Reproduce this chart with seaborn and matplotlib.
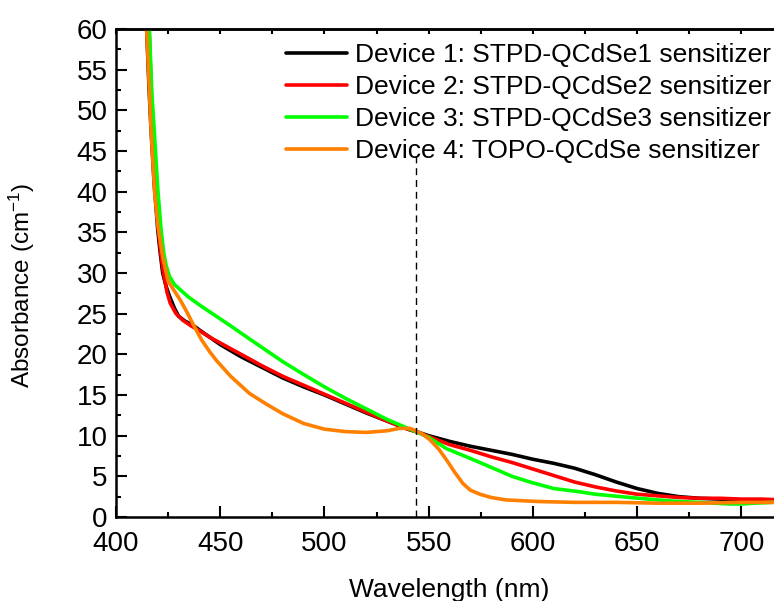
import matplotlib
matplotlib.use("Agg")
import matplotlib.pyplot as plt
import numpy as np
import pandas as pd
import seaborn as sns

# Absorbance spectra of the four sensitized devices (wavelength in nm, absorbance in cm^-1)
wl_d1 = [411, 413, 414.7, 415.8, 416.8, 418.3, 420, 421.2, 422.4, 424, 425.6, 428, 430, 433,
         436.8, 440, 445, 450, 460, 470, 480, 490, 500, 510, 520, 530, 540, 544, 550, 560,
         570, 580, 590, 600, 610, 620, 630, 640, 650, 660, 670, 680, 690, 700, 710, 720]
abs_d1 = [95, 72, 60, 53, 47.7, 41, 35.4, 32.5, 30.0, 28.4, 27.2, 25.7, 24.7, 24.1,
          23.6, 23.0, 22.1, 21.2, 19.7, 18.4, 17.1, 16.0, 15.0, 13.9, 12.8, 11.8, 10.8, 10.5, 10.0, 9.3,
          8.7, 8.2, 7.7, 7.1, 6.6, 6.0, 5.2, 4.3, 3.5, 2.9, 2.5, 2.3, 2.2, 2.1, 2.1, 2.0]

wl_d2 = [412, 414, 415.9, 417, 417.9, 419, 420.3, 421.5, 422.8, 424.5, 426, 428.8, 432,
         436, 440, 445, 450, 460, 470, 480, 490, 500, 510, 520, 530, 540, 544, 550, 560,
         570, 580, 590, 600, 610, 620, 630, 640, 650, 660, 670, 680, 690, 700, 710, 720]
abs_d2 = [95, 72, 60, 52, 47.7, 41, 35.4, 32.4, 30.0, 27.6, 26.3, 25.0, 24.2,
          23.5, 22.9, 22.1, 21.4, 20.0, 18.6, 17.3, 16.2, 15.1, 14.0, 12.9, 11.8, 10.8, 10.5, 9.9, 8.9,
          8.2, 7.4, 6.7, 5.9, 5.1, 4.3, 3.7, 3.2, 2.8, 2.6, 2.4, 2.3, 2.3, 2.2, 2.2, 2.1]

wl_d3 = [412, 414, 416, 417.2, 418.3, 420, 421.6, 423, 424, 425.6, 428, 431, 435, 441,
         448, 455, 464, 472, 480, 489.5, 500, 505, 510, 520, 530, 540, 544, 550, 558.6, 570,
         580, 590, 598.6, 610, 622.5, 630, 646.5, 660, 670.5, 680, 694.5, 700, 706, 715, 720]
abs_d3 = [95, 72, 60, 52, 47.7, 40.5, 35.4, 32.3, 31.0, 29.6, 28.6, 27.9, 27.0, 25.9,
          24.7, 23.5, 21.9, 20.5, 19.1, 17.6, 16.0, 15.3, 14.6, 13.3, 12.0, 10.9, 10.5, 9.8, 8.4, 7.2,
          6.1, 5.0, 4.3, 3.5, 3.1, 2.8, 2.4, 2.1, 1.9, 1.8, 1.6, 1.6, 1.7, 1.8, 1.8]

wl_d4 = [412, 414.7, 416.8, 418.5, 420, 422.4, 425, 428, 431, 434, 437, 441, 445, 448,
         455, 464, 472, 480, 490, 500, 510, 520, 530, 536, 541, 544, 547, 550.6, 555, 558.6,
         562.5, 566.5, 570, 574.6, 580, 587, 595, 603, 620, 640, 660, 680, 700, 720]
abs_d4 = [95, 60, 47.7, 40, 36.0, 32.0, 29.0, 27.8, 26.6, 25.2, 23.7, 21.8, 20.3, 19.3,
          17.3, 15.2, 13.9, 12.7, 11.5, 10.8, 10.5, 10.4, 10.6, 10.9, 10.9, 10.6, 10.2, 9.5, 8.3, 7.0,
          5.5, 4.1, 3.3, 2.8, 2.4, 2.1, 2.0, 1.9, 1.8, 1.8, 1.7, 1.7, 1.8, 1.8]

labels = ["Device 1: STPD-QCdSe1 sensitizer",
          "Device 2: STPD-QCdSe2 sensitizer",
          "Device 3: STPD-QCdSe3 sensitizer",
          "Device 4: TOPO-QCdSe sensitizer"]
colors = ["#000000", "#ff0000", "#00ff00", "#ff8000"]

marker_wl = 544        # wavelength of the common crossing point
marker_top = 44.5      # upper end of the dashed guide

x_ticks = [400, 450, 500, 550, 600, 650, 700]
y_ticks = list(range(0, 61, 5))

frames = []
for lab, wl, ab in zip(labels, [wl_d1, wl_d2, wl_d3, wl_d4], [abs_d1, abs_d2, abs_d3, abs_d4]):
    frames.append(pd.DataFrame({"Wavelength": wl, "Absorbance": ab, "Device": lab}))
df = pd.concat(frames, ignore_index=True)

sns.set_style("ticks")
plt.rcParams["font.family"] = ["Liberation Sans", "DejaVu Sans"]
plt.rcParams["mathtext.fontset"] = "custom"
plt.rcParams["mathtext.rm"] = "Liberation Sans"
plt.rcParams["mathtext.it"] = "Liberation Sans"
plt.rcParams["mathtext.bf"] = "Liberation Sans"
for key in ["text.color", "axes.labelcolor", "axes.edgecolor", "xtick.color", "ytick.color"]:
    plt.rcParams[key] = "black"

W, H = 774, 601
fig = plt.figure(figsize=(W / 100, H / 100), dpi=100)
ax = fig.add_axes([116 / W, 1 - 517 / H, (783 - 116) / W, (517 - 29) / H])

sns.lineplot(data=df, x="Wavelength", y="Absorbance", hue="Device", hue_order=labels,
             palette=colors, estimator=None, sort=False, linewidth=2.6, ax=ax)

ax.vlines(marker_wl, 0, marker_top, colors="black", linestyles=(0, (5, 3.5)), linewidth=1.0)

ax.set_xlim(400, 720)
ax.set_ylim(0, 60)
ax.set_xticks(x_ticks)
ax.set_yticks(y_ticks)
ax.xaxis.set_minor_locator(matplotlib.ticker.MultipleLocator(25))
ax.yaxis.set_minor_locator(matplotlib.ticker.MultipleLocator(2.5))

fs_tick = 20
fs_text = 19
ax.tick_params(which="major", direction="in", length=8, width=1.5, labelsize=fs_tick,
               top=False, right=False)
ax.tick_params(axis="x", which="major", pad=10)
ax.tick_params(axis="y", which="major", pad=6)
ax.tick_params(which="minor", direction="in", length=3.5, width=1.5, top=False, right=False)
for side in ["left", "bottom", "top"]:
    ax.spines[side].set_linewidth(1.8)
ax.spines["right"].set_visible(False)

# small ticks along the upper frame
top = ax.secondary_xaxis("top")
top.set_xticks(np.arange(400, 721, 25))
top.tick_params(direction="in", length=3.5, width=1.5, labeltop=False)
top.spines["top"].set_linewidth(1.8)

ax.set_xlabel("Wavelength (nm)", fontsize=fs_text)
ax.set_ylabel("Absorbance (cm$^{-1}$)", fontsize=17.5)
ax.xaxis.set_label_coords(0.5, -0.125)
ax.yaxis.set_label_coords(-0.118, 0.475)

handles, _ = ax.get_legend_handles_labels()
ax.legend(handles=handles, labels=labels, loc="upper left",
          bbox_to_anchor=(286 / W, 1 - 43 / H), bbox_transform=fig.transFigure,
          frameon=False, fontsize=fs_text, handlelength=2.3, handletextpad=0.3,
          labelspacing=0.3, borderpad=0, borderaxespad=0)

fig.savefig("out.png", dpi=100)
